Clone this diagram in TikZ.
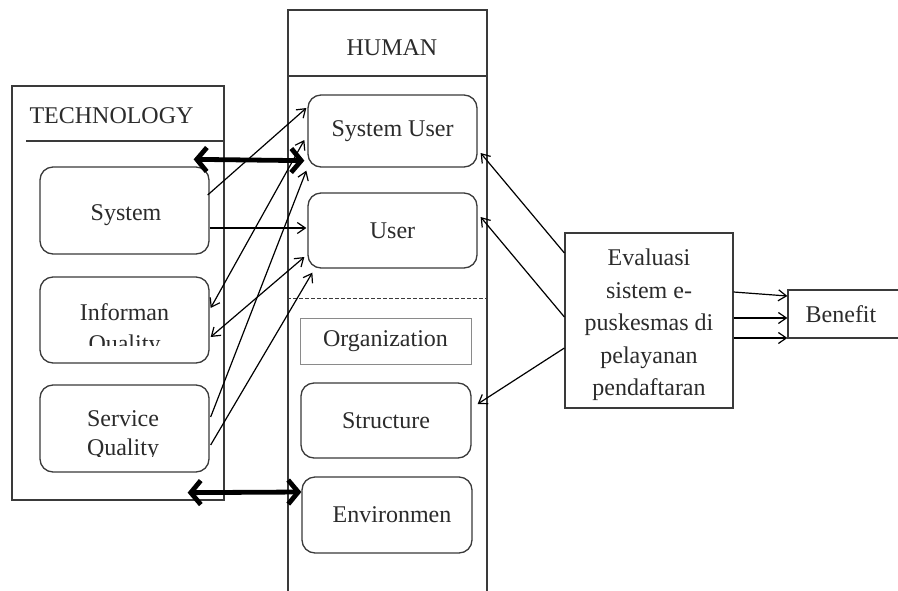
\documentclass[tikz,border=0pt]{standalone}
\usepackage{fontspec}
\setmainfont{Liberation Serif}
\usetikzlibrary{arrows.meta,calc}

\definecolor{ink}{HTML}{2B2B2B}
\definecolor{frame}{HTML}{3A3A3A}
\definecolor{paleframe}{HTML}{8A8A8A}

\tikzset{
  txt/.style={font=\fontsize{24}{31}\selectfont, text=ink, inner sep=0pt},
  panel/.style={draw=frame, line width=1.3pt, inner sep=0pt},
  rbox/.style={draw=frame, line width=1.3pt, rounded corners=13pt, inner sep=0pt,
               font=\fontsize{24}{31}\selectfont, text=ink},
  sbox/.style={draw=frame, line width=1.2pt, inner sep=0pt,
               font=\fontsize{24}{31}\selectfont, text=ink},
  link/.style={draw=black, line width=1.2pt, -{Straight Barb[length=8pt,width=11pt]}},
  link2/.style={draw=black, line width=1.2pt,
                {Straight Barb[length=8pt,width=11pt]}-{Straight Barb[length=8pt,width=11pt]}},
  heavy/.style={draw=black, line width=4.8pt,
                {Straight Barb[length=10pt,width=24pt]}-{Straight Barb[length=10pt,width=24pt]}},
}

\begin{document}
\begin{tikzpicture}[x=1pt,y=-1pt]
\clip (0,0) rectangle (898,590);
\fill[white] (0,0) rectangle (898,590);

% ---- TECHNOLOGY column ----
\node[panel, minimum width=212, minimum height=414] (tech) at (118,293) {};
\draw[frame, line width=1.2pt] (26,141) -- (tech.east |- 0,141);
\node[txt, anchor=base] (techlbl) at (111.5,123) {TECHNOLOGY};

\node[rbox, minimum width=169, minimum height=87] (sys) at (124.5,210.5) {};
\node[txt, anchor=base] (syslbl) at (126,220) {System};

\node[rbox, minimum width=169, minimum height=86] (iq) at (124.5,320) {};
\begin{scope}
  \clip (40,280) rectangle (209,345);
  \node[txt, anchor=base] (iqa) at (124.5,320) {Informan};
  \node[txt, anchor=base] (iqb) at (124.5,351) {Quality};
\end{scope}

\node[rbox, minimum width=169, minimum height=87] (sq) at (124.5,428.5) {};
\begin{scope}
  \clip (40,390) rectangle (209,456);
  \node[txt, anchor=base] (sqa) at (123,426) {Service};
  \node[txt, anchor=base] (sqb) at (123,455) {Quality};
\end{scope}

% ---- HUMAN column ----
\node[panel, minimum width=199, minimum height=600] (human) at (387.5,310) {};
\draw[frame, line width=1.2pt] (human.west |- 0,76) -- (human.east |- 0,76);
\draw[frame, line width=0.9pt, dashed, dash pattern=on 4pt off 2pt]
  (human.west |- 0,298) -- (human.east |- 0,298);
\node[txt, anchor=base] (humanlbl) at (392,55) {HUMAN};

\node[rbox, minimum width=169, minimum height=72] (su) at (392.5,131) {System User};
\node[rbox, minimum width=169, minimum height=75] (us) at (392.5,230.5) {User};
\node[sbox, draw=paleframe, line width=1pt, minimum width=171, minimum height=46] (org) at (385.5,341) {Organization};
\node[rbox, minimum width=170, minimum height=75] (str) at (386,420.5) {Structure};
\node[rbox, minimum width=170, minimum height=76] (env) at (387,515) {\hspace*{10pt}Environmen};

% ---- evaluation and benefit ----
\node[sbox, minimum width=168, minimum height=175] (eval) at (649,320.5) {};
\node[txt, align=center, font=\fontsize{24}{32.5}\selectfont] (evallbl) at (649,325)
  {Evaluasi\\sistem e-\\puskesmas di\\pelayanan\\pendaftaran};
\node[sbox, minimum width=122, minimum height=48] (ben) at (849,314) {\hspace*{-16pt}Benefit};

% ---- technology to human links ----
\draw[link]  ($(sys.east)+(-2,-15.5)$) -- ($(su.west)+(-1,-23)$);
\draw[heavy] ($(sys.north east)+(-16,-7)$) -- ($(su.south west)+(-3,-7)$);
\draw[link]  ($(sys.east)+(0,17.5)$) -- ($(us.west)+(-1,-2.5)$);
\draw[link2] ($(iq.east)+(1,-12)$) -- ($(su.west)+(-3,9)$);
\draw[link2] ($(iq.east)+(1,17)$) -- ($(us.west)+(-3,26.5)$);
\draw[link]  ($(sq.east)+(1,-11.5)$) -- ($(su.south west)+(-1,3)$);
\draw[link]  ($(sq.east)+(1,16.5)$) -- ($(us.south west)+(5,4)$);
\draw[heavy] ($(sq.south east)+(-22,20)$) -- ($(env.west)+(0,-23)$);

% ---- evaluation links ----
\draw[link] ($(eval.west)+(0,-67.5)$) -- ($(su.east)+(3,22)$);
\draw[link] ($(eval.west)+(0,-3.5)$) -- ($(us.east)+(3,-13.5)$);
\draw[link] ($(eval.west)+(0,27.5)$) -- ($(str.east)+(6,-16.5)$);

\draw[link] ($(eval.east)+(0,-28.5)$) -- ($(ben.west)+(0,-18)$);
\draw[link] ($(eval.east)+(0,-2.5)$) -- ($(ben.west)+(0,4)$);
\draw[link] ($(eval.east)+(0,17.5)$) -- ($(ben.west)+(0,24)$);
\end{tikzpicture}
\end{document}
